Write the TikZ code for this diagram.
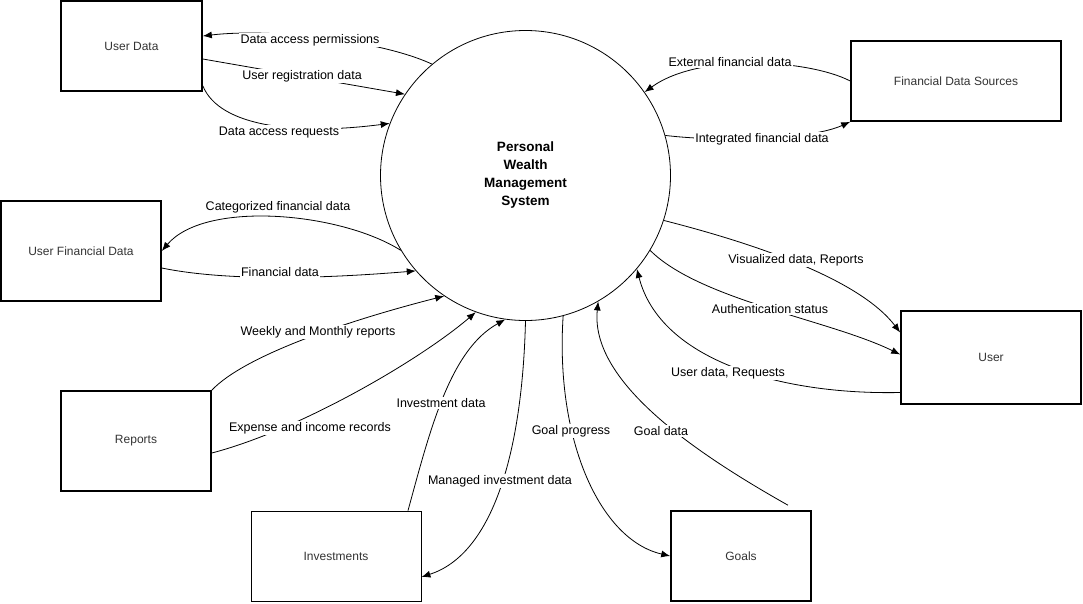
\documentclass[tikz,border=0pt]{standalone}
\usepackage{fontspec}
\setmainfont{Liberation Sans}
\usetikzlibrary{arrows.meta}

\begin{document}
\begin{tikzpicture}[x=1pt, y=-1pt,
        ext/.style={draw, rectangle, line width=1.6pt, font=\fontsize{12}{14}\selectfont, text=black!80},
        store/.style={ext, line width=0.8pt},
        proc/.style={draw, circle, line width=0.8pt, minimum size=290pt, inner sep=0pt, align=center, font=\fontsize{13.5}{18}\selectfont\bfseries},
        flow/.style={draw, line width=0.8pt, -{Latex[length=9pt,width=7pt]}},
        lbl/.style={fill=white, inner sep=1.5pt, font=\fontsize{12.5}{14}\selectfont}]
        \useasboundingbox (0,0) rectangle (1083,603);
        % process and external entities
        \node[proc] (sys) at (525.5,175.5) {Personal\\Wealth\\Management\\System};
        \node[ext, minimum width=141pt, minimum height=90pt] (udata) at (131.5,46) {User Data};
        \node[ext, minimum width=210pt, minimum height=80pt] (fsrc) at (956,81) {Financial Data Sources};
        \node[ext, minimum width=160pt, minimum height=100pt] (ufin) at (81,251) {User Financial Data};
        \node[ext, minimum width=180pt, minimum height=93pt] (user) at (991,357.5) {User};
        \node[ext, minimum width=150pt, minimum height=100pt] (reports) at (136,441) {Reports};
        \node[store, minimum width=170pt, minimum height=90pt] (invest) at (336,556) {Investments};
        \node[ext, minimum width=140pt, minimum height=90pt] (goals) at (741,556) {Goals};
        % data flows
        \draw[flow] (sys.130) .. controls (380,40) and (270,28) .. ([yshift=10pt]udata.east);
        \draw[flow] ([yshift=-13pt]udata.east) -- (sys.146);
        \draw[flow] ([yshift=6pt]udata.south east) .. controls (220,128) and (300,135) .. (sys.159);
        \draw[flow] (fsrc.west) .. controls (810,60) and (700,52) .. (sys.35);
        \draw[flow] (sys.16) .. controls (720,142) and (810,140) .. (fsrc.south west);
        \draw[flow] (sys.211) .. controls (340,212) and (205,200) .. (ufin.east);
        \draw[flow] ([yshift=-17pt]ufin.east) .. controls (230,282) and (330,278) .. (sys.221);
        \draw[flow] (reports.north east) .. controls (245,355) and (350,320) .. (sys.236);
        \draw[flow] ([yshift=-12pt]reports.east) .. controls (300,430) and (420,360) .. (sys.250);
        \draw[flow] ([xshift=72pt]invest.north) .. controls (430,430) and (450,350) .. (sys.262);
        \draw[flow] (sys.270) .. controls (522,460) and (490,555) .. ([yshift=-21pt]invest.east);
        \draw[flow] (sys.285) .. controls (555,440) and (600,540) .. (goals.west);
        \draw[flow] ([xshift=47pt,yshift=5pt]goals.north) .. controls (690,450) and (590,380) .. (sys.300);
        \draw[flow] (sys.342) .. controls (760,245) and (860,280) .. ([yshift=25pt]user.west);
        \draw[flow] (sys.329) .. controls (700,300) and (830,320) .. ([yshift=3pt]user.west);
        \draw[flow] ([yshift=-35pt]user.west) .. controls (780,395) and (660,360) .. (sys.320);
        % flow labels
        \node[lbl] (l-perm) at (310,40) {Data access permissions};
        \node[lbl] (l-reg) at (302,76) {User registration data};
        \node[lbl] (l-req) at (279,132) {Data access requests};
        \node[lbl] (l-ext) at (730,62) {External financial data};
        \node[lbl] (l-int) at (762,139) {Integrated financial data};
        \node[lbl] (l-cat) at (278,207) {Categorized financial data};
        \node[lbl] (l-fin) at (280,272) {Financial data};
        \node[lbl] (l-week) at (318,332) {Weekly and Monthly reports};
        \node[lbl] (l-exp) at (310,428) {Expense and income records};
        \node[lbl] (l-inv) at (441,403) {Investment data};
        \node[lbl] (l-man) at (500,481) {Managed investment data};
        \node[lbl] (l-prog) at (571,431) {Goal progress};
        \node[lbl] (l-goal) at (661,431) {Goal data};
        \node[lbl] (l-vis) at (796,260) {Visualized data, Reports};
        \node[lbl] (l-auth) at (770,309) {Authentication status};
        \node[lbl] (l-udr) at (728,373) {User data, Requests};
    \end{tikzpicture}
\end{document}
